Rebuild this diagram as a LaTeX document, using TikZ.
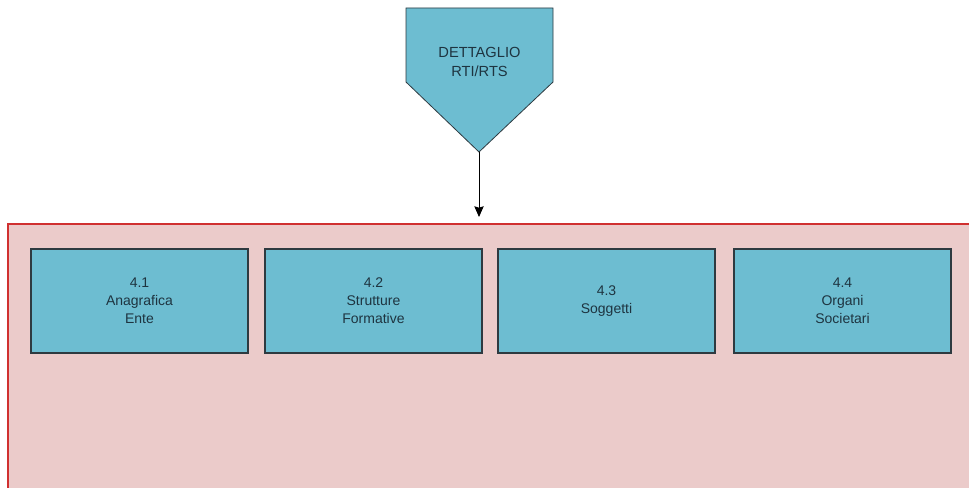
\documentclass[tikz,border=0pt]{standalone}
\usepackage{fontspec}
\setmainfont{Liberation Sans}
\usetikzlibrary{arrows.meta}
\definecolor{boxfill}{HTML}{6DBDD1}
\definecolor{boxline}{HTML}{2E3A40}
\definecolor{pinkfill}{HTML}{EBCBCA}
\definecolor{redline}{HTML}{D03030}
\definecolor{txt}{HTML}{1E3440}
\tikzset{
  stepbox/.style={draw=boxline, line width=0.9pt, fill=boxfill, minimum width=217*0.75pt, minimum height=104*0.75pt,
    align=center, text=txt, font=\fontsize{10.5}{13.5}\selectfont, inner sep=0pt},
  pent/.style={draw=boxline, line width=0.6pt, fill=boxfill},
  conn/.style={draw=black, line width=0.7pt, -{Stealth[length=8pt,width=7pt,inset=1pt]}},
  container/.style={fill=pinkfill, draw=redline, line width=0.8pt}
}
\begin{document}
\begin{tikzpicture}[x=0.75pt,y=-0.75pt]
\useasboundingbox (0,0) rectangle (969,488);
\clip (0,0) rectangle (969,488);
\fill[white] (0,0) rectangle (969,488);
% container
\draw[container] (8,224) rectangle (990,510);
\coordinate (ctop) at (479,217);
% pentagon
\draw[pent] (406,8) -- (553,8) -- (553,82) -- (479,152) -- (406,82) -- cycle;
\node[align=center, text=txt, font=\fontsize{11}{14}\selectfont] (head) at (479.5,62) {DETTAGLIO\\RTI/RTS};
\coordinate (tip) at (479,152);
\draw[conn] (tip) -- (ctop);
% boxes
\node[stepbox] (b1) at (139.5,301) {4.1\\Anagrafica\\Ente};
\node[stepbox] (b2) at (373.5,301) {4.2\\Strutture\\Formative};
\node[stepbox] (b3) at (606.5,301) {4.3\\Soggetti};
\node[stepbox] (b4) at (842.5,301) {4.4\\Organi\\Societari};
\end{tikzpicture}
\end{document}
